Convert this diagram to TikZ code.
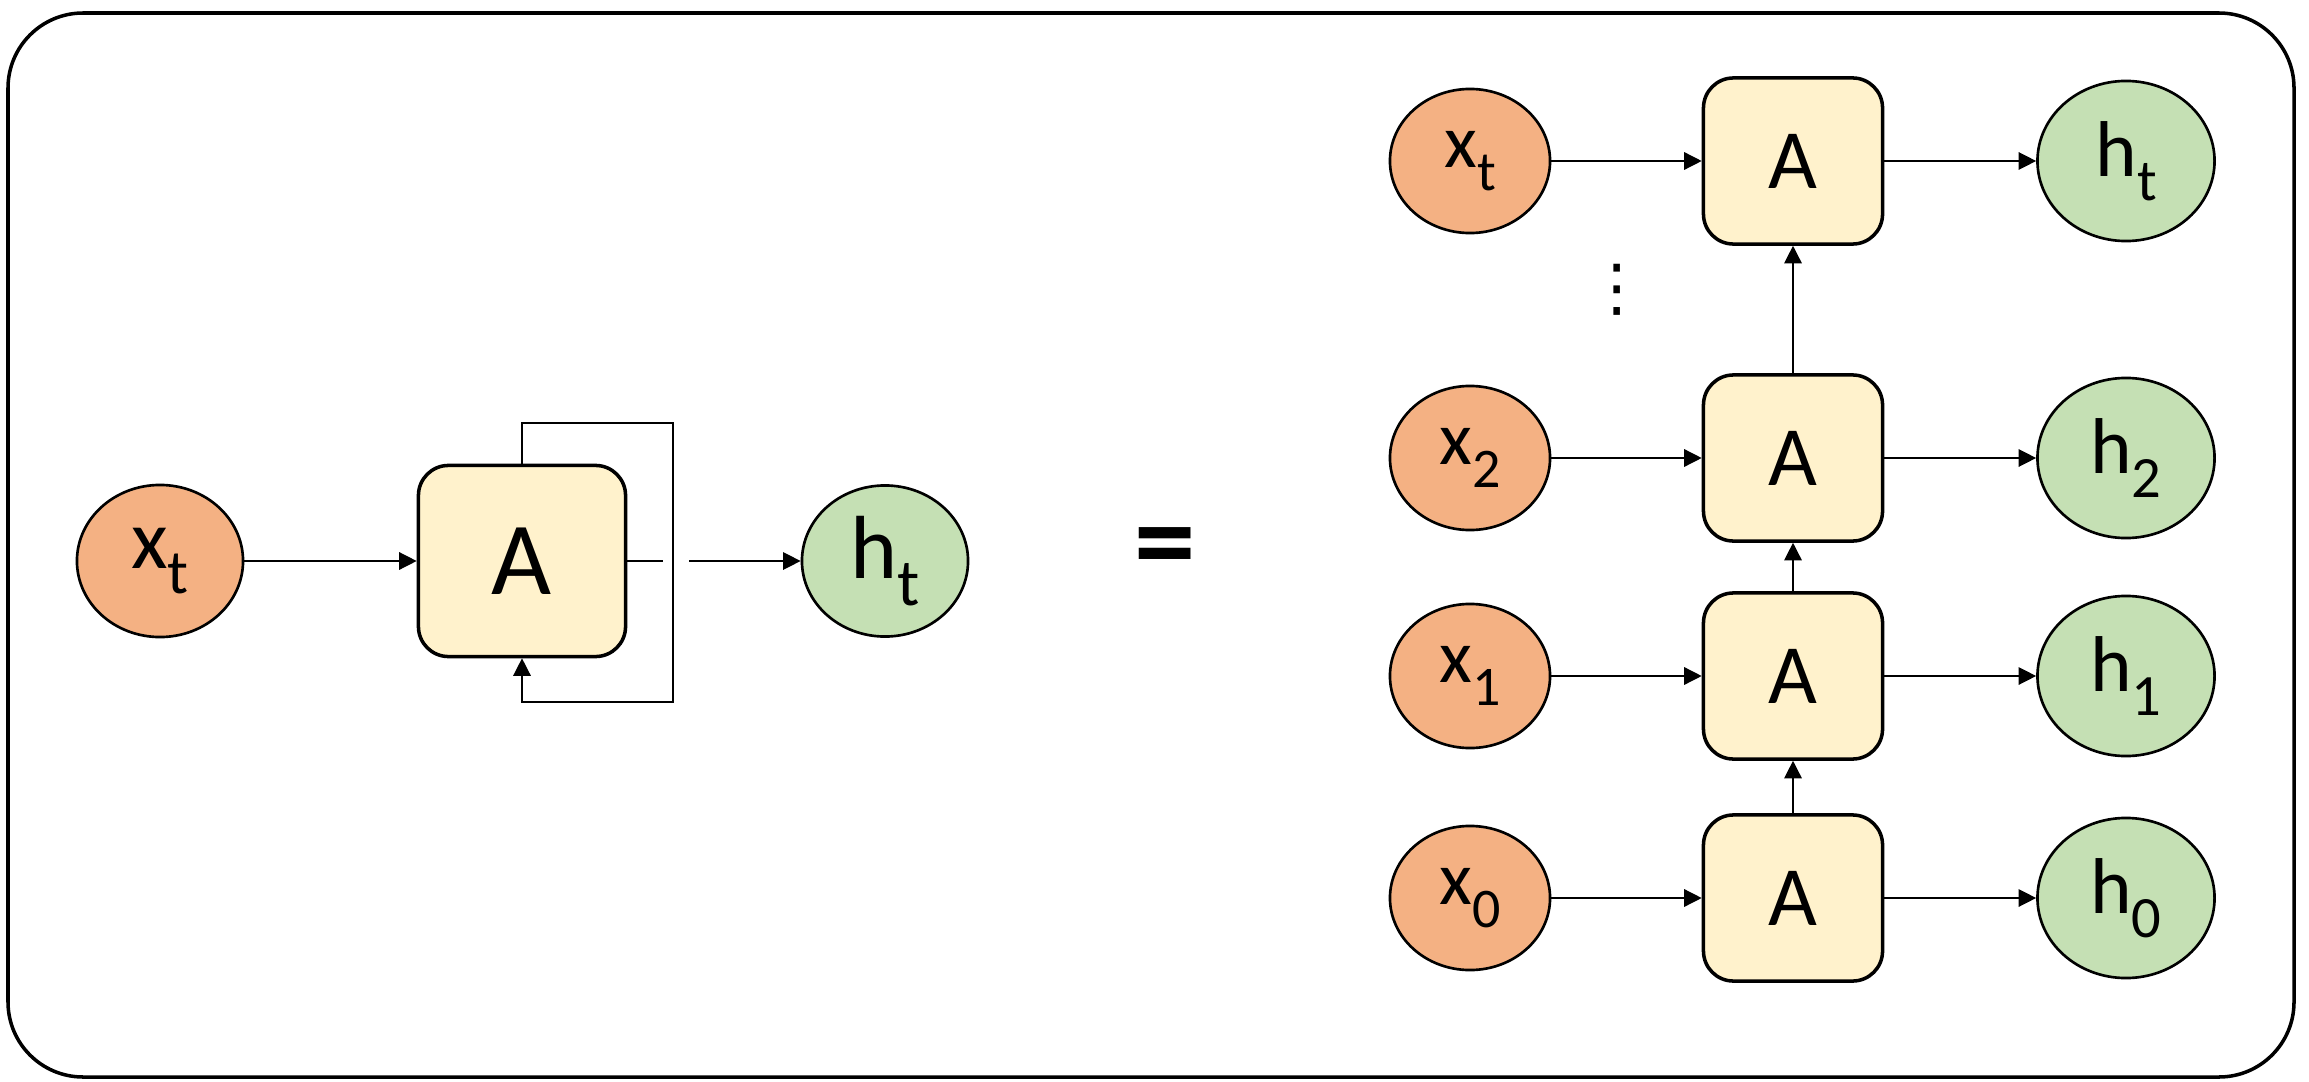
\documentclass[tikz,border=0pt]{standalone}
\usepackage{fontspec}
\usepackage{graphicx}
\usepackage{tikz}
\setmainfont{Carlito}
\newfontfamily\symfont{DejaVu Sans}
\usetikzlibrary{shapes.geometric,arrows.meta}

\definecolor{inorange}{HTML}{F4B183}
\definecolor{outgreen}{HTML}{C5E0B4}
\definecolor{cellyellow}{HTML}{FFF2CC}

\newcommand{\subidx}[1]{\raisebox{-0.3em}{\scalebox{0.74}{#1}}}

\tikzset{
  input/.style={ellipse, draw, line width=0.75pt, fill=inorange, inner sep=0pt},
  output/.style={ellipse, draw, line width=0.75pt, fill=outgreen, inner sep=0pt},
  cell/.style={rectangle, rounded corners=0.3cm, draw, line width=1pt, fill=cellyellow, inner sep=0pt},
  flow/.style={line width=0.4pt, -{Triangle[length=5pt,width=5pt]}},
  wire/.style={line width=0.4pt}
}

\begin{document}
\begin{tikzpicture}[x=0.01cm, y=-0.01cm]
\useasboundingbox (0,0) rectangle (2309,1082);
\draw[line width=1pt, rounded corners=0.75cm] (8,13) rectangle (2294,1077);

% folded network
\node[input, minimum width=1.66cm, minimum height=1.52cm, font=\fontsize{24}{28}\selectfont] (xl) at (160,561) {x\subidx{t}};
\node[cell, minimum width=2.07cm, minimum height=1.91cm, font=\fontsize{29.5}{32}\selectfont] (al) at (522,561) {A};
\node[output, minimum width=1.66cm, minimum height=1.51cm, font=\fontsize{25.5}{28}\selectfont] (hl) at (885,561) {h\subidx{t}};
\coordinate (loopa) at (673,423);
\coordinate (loopb) at (673,702);
\coordinate (gapl) at (663,561);
\coordinate (gapr) at (689,561);
\draw[flow] (xl) -- (al);
\draw[wire] (al) -- (gapl);
\draw[flow] (gapr) -- (hl);
\draw[flow] (al.north) |- (loopa) -- (loopb) -| (al.south);

\node[font=\bfseries\fontsize{35}{38}\selectfont] (eq) at (1165,555) {=};

% unrolled network
\foreach \k/\y in {t/161,2/458,1/676,0/898} {
  \node[input, minimum width=1.6cm, minimum height=1.44cm, font=\fontsize{21.5}{24}\selectfont] (x\k) at (1470,\y) {x\subidx{\k}};
  \node[cell, minimum width=1.79cm, minimum height=1.66cm, font=\fontsize{24}{28}\selectfont] (a\k) at (1793,\y) {A};
  \node[output, minimum width=1.77cm, minimum height=1.6cm, font=\fontsize{22.5}{26}\selectfont] (h\k) at (2126,\y) {h\subidx{\k}};
  \draw[flow] (x\k) -- (a\k);
  \draw[flow] (a\k) -- (h\k);
}
\draw[flow] (a0) -- (a1);
\draw[flow] (a1) -- (a2);
\draw[flow] (a2) -- (at);

\node[inner sep=0pt, font=\symfont\fontsize{18}{20}\selectfont] (dots) at (1617,290) {⋮};
\end{tikzpicture}
\end{document}
